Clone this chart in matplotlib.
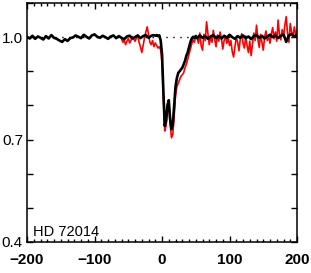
import numpy as np
import matplotlib
matplotlib.use('Agg')
import matplotlib.pyplot as plt
from matplotlib.ticker import MultipleLocator

# black spectrum: velocity grid (km/s) and normalised flux
black_v = np.concatenate([np.arange(-200, -10, 4), np.arange(-10, 52, 2), np.arange(52, 201, 4)])
black_f = [
    1.000, 0.996, 1.004, 0.995, 1.002, 0.998, 0.993, 1.003,
    0.996, 1.006, 0.998, 0.995, 0.990, 0.986, 0.994, 0.989,
    0.997, 0.999, 1.005, 1.001, 0.997, 1.007, 1.001, 0.996,
    1.005, 1.008, 1.001, 0.998, 1.004, 1.000, 0.995, 1.002,
    1.005, 0.997, 1.003, 0.998, 0.994, 1.002, 1.004, 0.996,
    1.000, 1.005, 0.997, 1.003, 1.006, 0.998, 1.004, 1.006,
    # line core, -10..50
    1.004, 1.006, 1.003, 1.005, 0.990, 0.950, 0.840, 0.740, 0.755, 0.800,
    0.815, 0.760, 0.730, 0.745, 0.800, 0.855, 0.880, 0.895, 0.900, 0.905,
    0.910, 0.920, 0.930, 0.945, 0.955, 0.970, 0.985, 0.996, 1.001, 0.998,
    1.003,
    # 52..200
    0.997, 1.005, 0.998, 1.003, 0.995, 1.002, 1.006, 0.997,
    1.003, 0.996, 1.004, 0.998, 1.007, 1.000, 0.995, 1.003,
    0.998, 1.005, 0.997, 1.002, 0.994, 1.003, 1.006, 0.998,
    1.004, 0.996, 1.002, 1.007, 1.000, 1.005, 0.997, 1.004,
    1.008, 0.986, 1.005, 1.009, 1.002, 1.007,
]

# red spectrum
red_v = np.arange(-60, 201, 2)
red_f = [
    0.995, 0.985, 0.992, 0.978, 0.988, 0.996, 0.983, 0.990, 1.002, 0.994,
    0.988, 0.997, 1.006, 0.985, 0.972, 0.955, 0.975, 0.998, 1.015, 1.030,
    1.008, 0.985, 0.978, 0.990, 0.972, 0.983, 0.976, 0.968, 0.972, 0.962,
    0.925, 0.820, 0.725, 0.740, 0.785, 0.800, 0.745, 0.705, 0.715, 0.770,
    0.830, 0.855, 0.865, 0.875, 0.885, 0.890, 0.895, 0.910, 0.920, 0.935,
    0.950, 0.965, 0.980, 0.992, 0.985, 1.005, 0.998, 0.982, 1.012, 0.975,
    0.962, 1.008, 0.990, 1.045, 1.010, 0.978, 1.002, 0.985, 1.020, 0.994,
    0.972, 1.006, 0.988, 1.015, 0.996, 0.965, 0.990, 1.004, 0.982, 0.998,
    0.975, 0.990, 0.958, 0.942, 0.970, 1.000, 0.985, 0.960, 0.995, 1.010,
    0.982, 0.968, 1.003, 0.975, 0.955, 0.988, 0.946, 0.978, 1.012, 0.990,
    1.035, 0.995, 0.970, 1.008, 0.985, 0.962, 1.000, 1.018, 0.990, 1.005,
    0.982, 1.010, 1.028, 0.995, 1.015, 0.988, 1.050, 1.006, 0.992, 1.022,
    1.002, 1.035, 1.060, 1.010, 0.985, 1.040, 1.015, 1.000, 1.030, 1.008,
    1.020,
]

star = 'HD 72014'
yticks = [0.4, 0.7, 1.0]
xticks = [-200, -100, 0, 100, 200]

plt.rcParams['font.family'] = ['Liberation Sans', 'DejaVu Sans']

fig = plt.figure(figsize=(3.11, 2.73), dpi=100)
ax = fig.add_axes([0.087, 0.114, 0.868, 0.875])

ax.axhline(1.0, color='black', lw=1.0, ls=(0, (1, 4)), zorder=1)
ax.plot(red_v, red_f, color='red', lw=1.2, zorder=2)
ax.plot(black_v, black_f, color='black', lw=1.9, zorder=3)

ax.set_xlim(-200, 200)
ax.set_ylim(0.4, 1.1)
ax.set_xticks(xticks)
ax.set_xticklabels(['\u2212200', '\u2212100', '0', '100', '200'], fontweight='bold', fontsize=11)
ax.set_yticks(yticks)
ax.set_yticklabels(['0.4', '0.7', '1.0'], fontsize=11)
ax.xaxis.set_minor_locator(MultipleLocator(10))
ax.yaxis.set_minor_locator(MultipleLocator(0.1))
ax.tick_params(which='both', direction='in', top=True, right=True, width=1.0)
ax.tick_params(axis='x', which='major', length=4, pad=8)
ax.tick_params(axis='x', which='minor', length=2)
ax.tick_params(axis='y', which='both', length=4, pad=3)
for s in ax.spines.values():
    s.set_linewidth(1.1)

ax.text(-191, 0.418, star, fontsize=10.5, ha='left', va='baseline')

fig.savefig('out.png', dpi=100)
